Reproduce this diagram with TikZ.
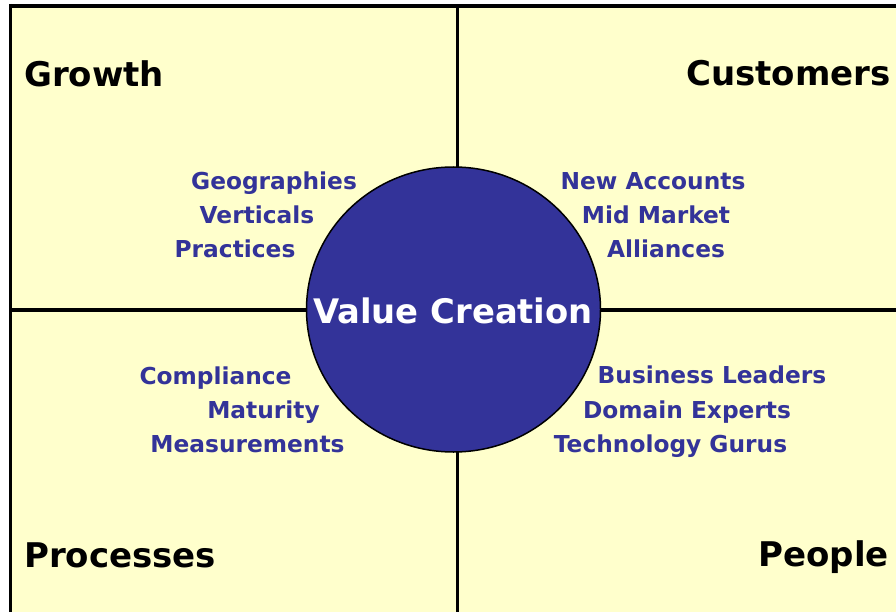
\documentclass[tikz,border=0pt]{standalone}
\usepackage{fontspec}
\setmainfont{DejaVu Sans}
\usetikzlibrary{shapes.geometric}
\definecolor{paneyellow}{HTML}{FFFFCC}
\definecolor{valueblue}{HTML}{333399}

\begin{document}
\begin{tikzpicture}[x=1pt,y=-1pt,
		head/.style={anchor=base west,inner sep=0pt,font={\fontsize{34}{40}\bfseries}},
		item/.style={anchor=base,inner sep=0pt,text=valueblue,font={\fontsize{23.3}{28}\bfseries}}]

	\useasboundingbox (0,0) rectangle (896,612);

	% background and grid
	\fill [paneyellow] (10.5,6) rectangle (896,612);
	\draw [line width=3.5pt] (9,6) -- (896,6);
	\draw [line width=3.5pt] (10.5,4) -- (10.5,612);
	\draw [line width=3.2pt] (457.5,6) -- (457.5,612);
	\draw [line width=3.2pt] (10.5,310) -- (896,310);

	% centre
	\node[ellipse,draw,line width=1.5pt,fill=valueblue,inner sep=0pt,minimum width=294,minimum height=285] (value) at (453.5,309.5) {};
	\node[anchor=base,inner sep=0pt,text=white,font={\fontsize{33.8}{40}\bfseries}] (valuetext) at (453,323) {Value Creation};

	% quadrant titles
	\node[head] (growth) at (24,87) {Growth};
	\node[head,anchor=base east] (customers) at (891,86) {Customers};
	\node[head] (processes) at (24,567) {Processes};
	\node[head,anchor=base east] (people) at (889,566) {People};

	% growth
	\node[item] (geo) at (274,190) {Geographies};
	\node[item] (vert) at (257,224) {Verticals};
	\node[item] (prac) at (235,258) {Practices};

	% customers
	\node[item] (newacc) at (653,190) {New Accounts};
	\node[item] (midmkt) at (656,224) {Mid Market};
	\node[item] (alli) at (666,258) {Alliances};

	% processes
	\node[item] (compl) at (215.5,384) {Compliance};
	\node[item] (matur) at (263.5,418) {Maturity};
	\node[item] (meas) at (247.5,452) {Measurements};

	% people
	\node[item] (busl) at (712,383) {Business Leaders};
	\node[item] (domx) at (687,418) {Domain Experts};
	\node[item] (techg) at (670.5,452) {Technology Gurus};

\end{tikzpicture}
\end{document}
